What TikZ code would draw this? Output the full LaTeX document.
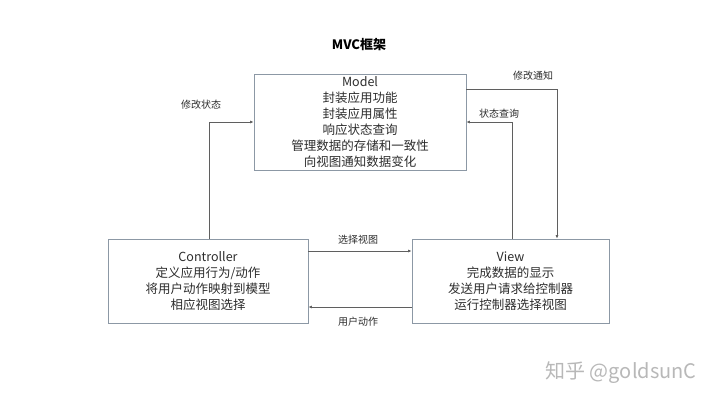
\documentclass[tikz,border=0pt]{standalone}
\usepackage{fontspec}
\setmainfont{Noto Sans CJK SC}
\usepackage{tikz}
\usetikzlibrary{arrows.meta, positioning}

\definecolor{boxline}{RGB}{140,152,165}
\definecolor{wireline}{RGB}{95,95,95}
\definecolor{txt}{RGB}{45,45,45}

\begin{document}
\begin{tikzpicture}[
    x=1pt, y=-1pt,
    block/.style={rectangle, draw=boxline, line width=0.8pt, align=center, text=txt,
        font=\fontsize{12.5}{16}\selectfont, inner sep=0pt},
    lbl/.style={text=txt, font=\fontsize{10}{11}\selectfont, inner sep=1pt},
    wire/.style={draw=wireline, line width=0.7pt, -{Latex[length=3.5pt,width=3pt]}}
]
    \useasboundingbox[fill=white] (0,0) rectangle (720,405);

    \node[font=\bfseries\fontsize{13}{15}\selectfont, text=black] (title) at (359,45) {MVC框架};

    % the three parts
    \node[block, minimum width=212pt, minimum height=96pt] (model) at (360,122)
        {Model\\封装应用功能\\封装应用属性\\响应状态查询\\管理数据的存储和一致性\\向视图通知数据变化};
    \node[block, minimum width=200pt, minimum height=84pt] (ctrl) at (208,281)
        {Controller\\定义应用行为/动作\\将用户动作映射到模型\\相应视图选择};
    \node[block, minimum width=197pt, minimum height=84pt] (view) at (510.5,281)
        {View\\完成数据的显示\\发送用户请求给控制器\\运行控制器选择视图};

    % bends of the connectors
    \coordinate (setstate) at (209,122);
    \coordinate (notify) at (557,89);
    \coordinate (query) at (512,122);
    \coordinate (select) at (360,251);
    \coordinate (action) at (360,307);

    % edges
    \draw[wire] (setstate |- ctrl.north) |- (model.west |- setstate);
    \draw[wire] (model.east |- notify) -| (view.north -| notify);
    \draw[wire] (view.north -| query) |- (model.east |- query);
    \draw[wire] (ctrl.east |- select) -- (view.west |- select);
    \draw[wire] (view.west |- action) -- (ctrl.east |- action);

    % edge labels
    \node[lbl] (setstatelbl) at (201,105) {修改状态};
    \node[lbl] (notifylbl) at (533,76) {修改通知};
    \node[lbl] (querylbl) at (499,114) {状态查询};
    \node[lbl] (selectlbl) at (358,240) {选择视图};
    \node[lbl] (actionlbl) at (358,322) {用户动作};

    \node[text=black!28, font=\fontsize{20}{22}\selectfont, inner sep=0pt] (mark) at (621,373) {知乎 @goldsunC};
\end{tikzpicture}
\end{document}
